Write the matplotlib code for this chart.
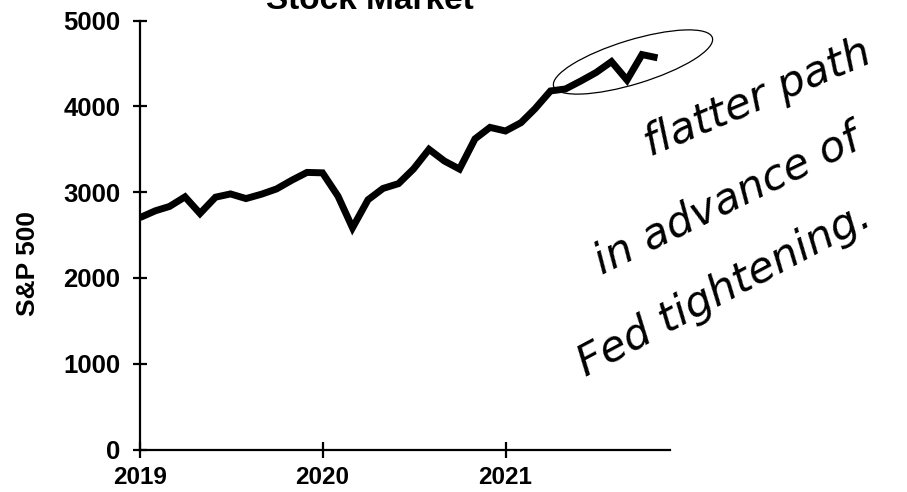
import matplotlib
matplotlib.use("Agg")
import matplotlib.pyplot as plt
from matplotlib.patches import Ellipse
import pandas as pd

# ---- data (month-end S&P 500 level) ----
months = pd.date_range("2019-01-01", "2021-11-01", freq="MS")
sp500 = [2704, 2784, 2834, 2946, 2752, 2942, 2980, 2926, 2977, 3038, 3141, 3231,
         3226, 2954, 2585, 2912, 3044, 3100, 3271, 3500, 3363, 3270, 3622, 3756,
         3714, 3811, 3973, 4181, 4204, 4298, 4395, 4523, 4308, 4605, 4567]
year_ticks = ["2019-01-01", "2020-01-01", "2021-01-01"]
year_labels = ["2019", "2020", "2021"]
y_ticks = [0, 1000, 2000, 3000, 4000, 5000]
title = "Stock Market"
ylabel = "S&P 500"
note_lines = ["flatter path", "in advance of", "Fed tightening."]

plt.rcParams["font.family"] = ["Liberation Sans", "DejaVu Sans"]

W, H = 907, 492
fig = plt.figure(figsize=(W / 100, H / 100), dpi=100)
ax = fig.add_axes([140 / W, 1 - 449.5 / H, (670 - 140) / W, (449.5 - 20.7) / H])

ax.plot(months, sp500, color="black", lw=5, solid_joinstyle="miter", solid_capstyle="butt")

ax.set_ylim(0, 5000)
ax.set_xlim(pd.Timestamp("2019-01-01"), pd.Timestamp("2021-11-26"))
ax.set_yticks(y_ticks)
ax.set_yticklabels([str(v) for v in y_ticks])
ax.set_xticks([pd.Timestamp(t) for t in year_ticks])
ax.set_xticklabels(year_labels)

for s in ["top", "right"]:
    ax.spines[s].set_visible(False)
for s in ["left", "bottom"]:
    ax.spines[s].set_linewidth(1.6)
    ax.spines[s].set_color("black")

ax.tick_params(axis="y", direction="inout", length=10, width=1.6, pad=9,
               labelsize=18.5)
ax.tick_params(axis="x", direction="inout", length=12, width=1.6, pad=6,
               labelsize=17.5)
for lab in ax.get_xticklabels() + ax.get_yticklabels():
    lab.set_fontweight("bold")

fig.text(28 / W, 1 - 263 / H, ylabel, rotation=90, ha="center", va="center",
         fontsize=19, fontweight="bold")
fig.text(370 / W, 1 - 9 / H, title, ha="center", va="baseline",
         fontsize=24, fontweight="bold")

# hand-drawn ellipse around the recent flat stretch
ell = Ellipse((6.33, (H - 62) / 100), width=1.66, height=0.44, angle=17,
              transform=fig.dpi_scale_trans, fill=False, lw=0.9,
              edgecolor="black", clip_on=False)
fig.add_artist(ell)

# handwritten note
hand = dict(ha="center", va="center", fontsize=31, fontstyle="italic",
            family=["DejaVu Sans"], color="black")
fig.text(758 / W, 1 - 98 / H, note_lines[0], rotation=23, **hand)
fig.text(727 / W, 1 - 200 / H, note_lines[1], rotation=26, **hand)
fig.text(724 / W, 1 - 290 / H, note_lines[2], rotation=28, **hand)

fig.savefig("out.png", dpi=100)
